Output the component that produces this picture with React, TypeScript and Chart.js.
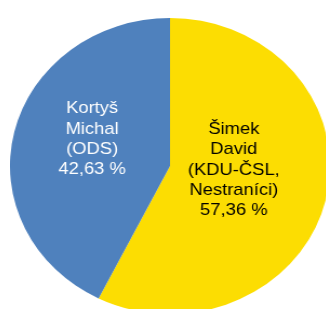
import { useEffect, useRef } from "react";
import { Chart, registerables } from "chart.js";

Chart.register(...registerables);

const categories = ["Šimek David (KDU-ČSL, Nestraníci)", "Kortyš Michal (ODS)"];
const nameLines = [
  ["Šimek", "David", "(KDU-ČSL,", "Nestraníci)"],
  ["Kortyš", "Michal", "(ODS)"],
];
const values = [57.36, 42.63];
const valueLabels = ["57,36 %", "42,63 %"];
const colors = ["#FCDD02", "#4F81BD"];
const textColors = ["#000000", "#FFFFFF"];
const labelRadiusFraction = [0.41, 0.5];

const labelPlugin = {
  id: "sliceLabels",
  afterDatasetsDraw(chart: any) {
    const ctx = chart.ctx;
    const meta = chart.getDatasetMeta(0);
    ctx.save();
    ctx.font = "17px 'Liberation Sans', Arial, sans-serif";
    ctx.textAlign = "center";
    ctx.textBaseline = "middle";
    meta.data.forEach((arc: any, i: number) => {
      const p = arc.getProps(["x", "y", "startAngle", "endAngle", "outerRadius"], true);
      const mid = (p.startAngle + p.endAngle) / 2;
      const r = p.outerRadius * labelRadiusFraction[i];
      const cx = p.x + Math.cos(mid) * r;
      const cy = p.y + Math.sin(mid) * r - 10;
      const lines = [...nameLines[i], valueLabels[i]];
      const lh = 20.3;
      const y0 = cy - ((lines.length - 1) / 2) * lh;
      ctx.fillStyle = textColors[i];
      lines.forEach((t, k) => ctx.fillText(t, cx, y0 + k * lh));
    });
    ctx.restore();
  },
};

export default function App() {
  const ref = useRef<HTMLCanvasElement>(null);
  useEffect(() => {
    if (!ref.current) return;
    const chart = new Chart(ref.current, {
      type: "pie",
      data: {
        labels: categories,
        datasets: [
          {
            data: values,
            backgroundColor: colors,
            borderWidth: 0,
          },
        ],
      },
      options: {
        animation: false,
        responsive: true,
        maintainAspectRatio: false,
        layout: { padding: 0 },
        plugins: {
          legend: { display: false },
          tooltip: { enabled: false },
        },
      },
      plugins: [labelPlugin],
    });
    return () => chart.destroy();
  }, []);
  return (
    <div
      style={{
        position: "fixed",
        left: 0,
        top: 0,
        width: 326,
        height: 309,
        overflow: "hidden",
        background: "#fff",
      }}
    >
      <div
        style={{
          position: "absolute",
          left: 10,
          top: 18,
          width: 296,
          height: 296,
          transform: "scaleX(1.081)",
          transformOrigin: "0 0",
        }}
      >
        <canvas ref={ref} />
      </div>
    </div>
  );
}
